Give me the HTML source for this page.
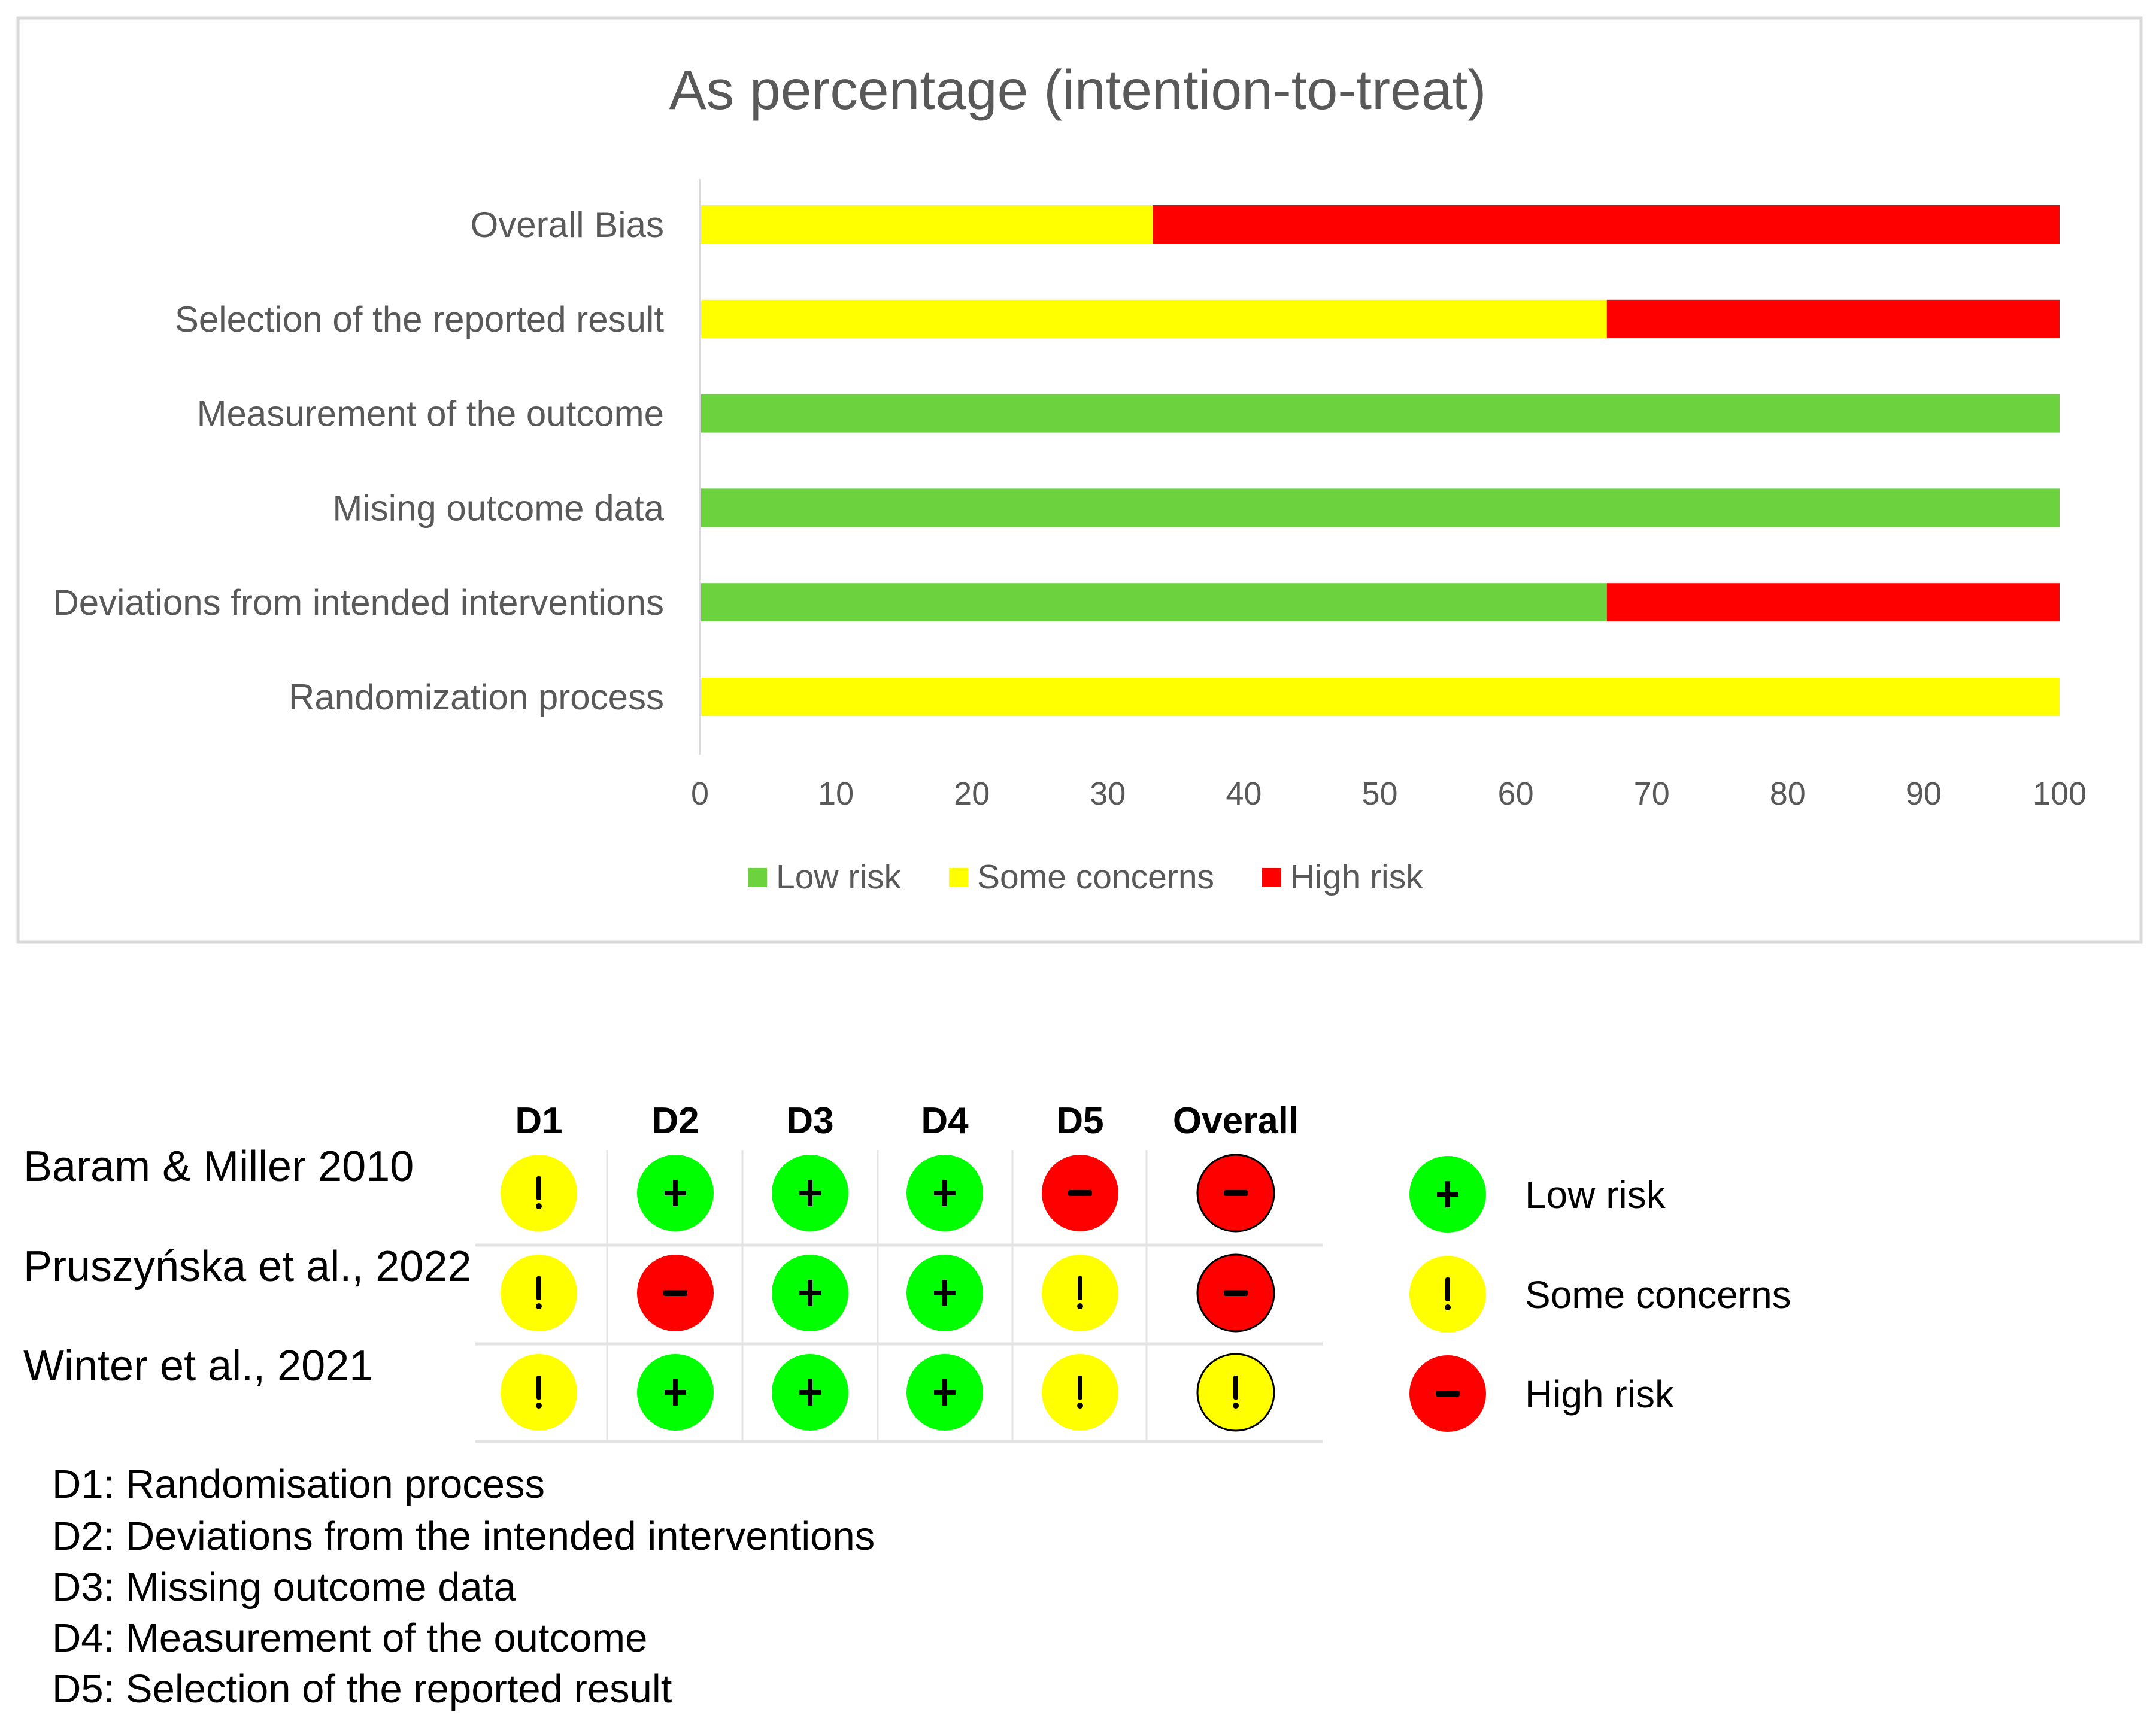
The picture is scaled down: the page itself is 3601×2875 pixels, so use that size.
<!DOCTYPE html>
<html><head><meta charset="utf-8"><style>
html,body{margin:0;padding:0;background:#fff;}
svg{display:block;}
text{font-family:"Liberation Sans",sans-serif;}
</style></head><body>
<svg id="fig" width="3601" height="2875" viewBox="0 0 3601 2875" xmlns="http://www.w3.org/2000/svg">
<rect x="30" y="30" width="3546" height="1544" fill="#fff" stroke="#d9d9d9" stroke-width="5"/>
<text x="1800" y="182" font-size="93" fill="#595959" text-anchor="middle">As percentage (intention-to-treat)</text>
<g id="bars"></g>
<line x1="1169" y1="299" x2="1169" y2="1261" stroke="#d9d9d9" stroke-width="4"/>
<g id="ticks"></g>
<g>
<rect x="1249" y="1450" width="32" height="32" fill="#6cd33f"/>
<text x="1296" y="1484" font-size="57" fill="#595959">Low risk</text>
<rect x="1585" y="1450" width="32" height="32" fill="#ffff00"/>
<text x="1632" y="1484" font-size="57" fill="#595959">Some concerns</text>
<rect x="2108" y="1450" width="32" height="32" fill="#ff0000"/>
<text x="2155" y="1484" font-size="57" fill="#595959">High risk</text>
</g>
<g id="grid"></g>
<g id="defs-text" font-size="67" fill="#000">
<text x="87" y="2502">D1: Randomisation process</text>
<text x="87" y="2589">D2: Deviations from the intended interventions</text>
<text x="87" y="2674">D3: Missing outcome data</text>
<text x="87" y="2759">D4: Measurement of the outcome</text>
<text x="87" y="2844">D5: Selection of the reported result</text>
</g>
</svg>
<script>
const categories = ["Overall Bias","Selection of the reported result","Measurement of the outcome","Mising outcome data","Deviations from intended interventions","Randomization process"];
const lowRisk = [0,0,100,100,66.7,0];
const someConcerns = [33.3,66.7,0,0,0,100];
const highRisk = [66.7,33.3,0,0,33.3,0];
const xTicks = [0,10,20,30,40,50,60,70,80,90,100];
const studies = ["Baram & Miller 2010","Pruszyńska et al., 2022","Winter et al., 2021"];
const domains = ["D1","D2","D3","D4","D5","Overall"];
const judgements = [
  ["some","low","low","low","high","high"],
  ["some","high","low","low","some","high"],
  ["some","low","low","low","some","some"]
];
const legendLevels = ["low","some","high"];
const legendLabels = ["Low risk","Some concerns","High risk"];

const NS="http://www.w3.org/2000/svg";
function mk(tag, attrs, parent){const e=document.createElementNS(NS,tag);for(const k in attrs)e.setAttribute(k,attrs[k]);parent.appendChild(e);return e;}
const X0=1169, X1=3440;
const xScale=v=>X0+(X1-X0)*v/100;
const band=157.8;
const yCenter=i=>375+band*i;
const barH=64;
const bars=document.getElementById('bars');
const colors={low:"#6cd33f",some:"#ffff00",high:"#ff0000"};
categories.forEach((c,i)=>{
  const lab=mk('text',{x:1109,y:yCenter(i)+21,'font-size':60,fill:'#595959','text-anchor':'end'},bars);
  lab.textContent=c;
  
  
  let acc=0;
  [[lowRisk,"low"],[someConcerns,"some"],[highRisk,"high"]].forEach(([arr,k])=>{
    const v=arr[i]; if(v<=0) return;
    const r=mk('rect',{x:xScale(acc),y:yCenter(i)-barH/2,width:xScale(acc+v)-xScale(acc),height:barH,fill:colors[k]},bars);
    
    
    acc+=v;
  });
});
const ticks=document.getElementById('ticks');
xTicks.forEach(t=>{
  const e=mk('text',{x:xScale(t),y:1344,'font-size':54,fill:'#595959','text-anchor':'middle'},ticks);
  e.textContent=t;
  
  
});
const g=document.getElementById('grid');
const colX=[900,1128,1353,1578,1804,2064];
const rowY=[1993,2160,2326];
const vLines=[1014,1240,1466,1691,1915];
const hLines=[2080,2245,2408];
vLines.forEach(x=>{const l=mk('line',{x1:x,y1:1921,x2:x,y2:2408,stroke:'#e3e3e3','stroke-width':3},g);
  
  });
hLines.forEach(y=>{const l=mk('line',{x1:794,y1:y,x2:2209,y2:y,stroke:'#e3e3e3','stroke-width':5},g);
  
  });
const tlColors={low:"#00ff00",some:"#ffff00",high:"#ff0000"};
function symbol(k,cx,cy,parent){
  if(k==='low'){mk('rect',{x:cx-18,y:cy-4,width:36,height:8,fill:'#000'},parent);mk('rect',{x:cx-4,y:cy-22,width:8,height:44,fill:'#000'},parent);}
  else if(k==='high'){mk('rect',{x:cx-20,y:cy-5,width:40,height:10,rx:3,fill:'#000'},parent);}
  else{mk('rect',{x:cx-4,y:cy-28,width:8,height:40,rx:3,fill:'#000'},parent);mk('circle',{cx:cx,cy:cy+22,r:5,fill:'#000'},parent);}
}
domains.forEach((d,j)=>{
  const t=mk('text',{x:colX[j],y:1893,'font-size':62,'font-weight':'bold','text-anchor':'middle',fill:'#000'},g);
  t.textContent=d;
  
  
});
studies.forEach((s,i)=>{
  const t=mk('text',{x:39,y:rowY[i]-20,'font-size':72,fill:'#000'},g);
  t.textContent=s;
  
  
  judgements[i].forEach((k,j)=>{
    const grp=mk('g',{},g);
    
    
    const ov=j===5;
    mk('circle',{cx:colX[j],cy:rowY[i],r:64,fill:tlColors[k],stroke:ov?'#000':'none','stroke-width':ov?3:0},grp);
    symbol(k,colX[j],rowY[i],grp);
  });
});
legendLevels.forEach((k,i)=>{
  const grp=mk('g',{},g);
  
  
  mk('circle',{cx:2418,cy:rowY[i]+2,r:64,fill:tlColors[k]},grp);
  symbol(k,2418,rowY[i]+2,grp);
  const t=mk('text',{x:2547,y:rowY[i]+25,'font-size':64,fill:'#000'},grp);
  t.textContent=legendLabels[i];
});
</script>
</body></html>
